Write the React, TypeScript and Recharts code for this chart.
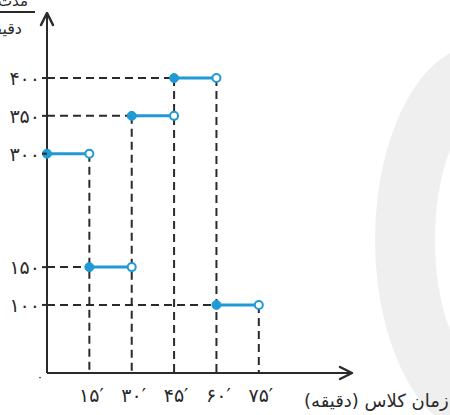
import React from 'react';
import { ComposedChart, Line, XAxis, YAxis, ReferenceLine, ReferenceDot } from 'recharts';

const segStarts = [0, 15, 30, 45, 60];
const segEnds = [15, 30, 45, 60, 75];
const segValues = [300, 150, 350, 400, 100];

const xTicks = [0, 15, 30, 45, 60, 75];
const xTickLabels = ['۰', '۱۵′', '۳۰′', '۴۵′', '۶۰′', '۷۵′'];
const yTicks = [100, 150, 300, 350, 400];
const yTickLabels = ['۱۰۰', '۱۵۰', '۳۰۰', '۳۵۰', '۴۰۰'];

const xTitle = 'زمان کلاس (دقیقه)';
const yTitleTop = 'مدت';
const yTitleBottom = 'دقیقه';

const X_DOMAIN: [number, number] = [0, 108];
const Y_DOMAIN: [number, number] = [10, 486];

const BLUE = '#1f9ad6';
const INK = '#2a2a2a';
const FONT = '"DejaVu Sans", sans-serif';

const guideVerticals = segEnds.map((x) => {
  const tops = segValues.filter((_, i) => segStarts[i] === x || segEnds[i] === x);
  return { x, top: Math.max(...tops) };
});
const guideHorizontals = segStarts
  .map((s, i) => ({ s, v: segValues[i] }))
  .filter((g) => g.s > 0);

const XTick = (props: any) => {
  const { x, y, payload } = props;
  const idx = xTicks.indexOf(payload.value);
  const label = xTickLabels[idx] ?? '';
  if (payload.value === 0) {
    return (
      <text x={x - 7} y={y + 8} textAnchor="middle" fontSize={12} fill={INK} fontFamily={FONT}>
        {label}
      </text>
    );
  }
  return (
    <text x={x + 2} y={y + 29} textAnchor="middle" fontSize={19} fill={INK} fontFamily={FONT}>
      {label}
    </text>
  );
};

const YTick = (props: any) => {
  const { x, y, payload } = props;
  const idx = yTicks.indexOf(payload.value);
  const label = yTickLabels[idx] ?? '';
  return (
    <g>
      <line x1={x - 5} x2={x} y1={y} y2={y} stroke={INK} strokeWidth={2} />
      <text x={x - 7} y={y + 7} textAnchor="end" fontSize={19} fill={INK} fontFamily={FONT}>
        {label}
      </text>
    </g>
  );
};

const makeDot = (props: any) => {
  const { cx, cy, index } = props;
  if (cx == null || cy == null) return <g key={`d${index}`} />;
  if (index === 0) {
    return <circle key={`d${index}`} cx={cx} cy={cy} r={4.5} fill={BLUE} stroke={BLUE} strokeWidth={1} />;
  }
  return <circle key={`d${index}`} cx={cx} cy={cy} r={4} fill="#fff" stroke={BLUE} strokeWidth={2} />;
};

const UpArrow = (props: any) => {
  const { cx, cy } = props;
  return (
    <path
      d={`M${cx - 6},${cy + 12} L${cx},${cy} L${cx + 6},${cy + 12}`}
      fill="none"
      stroke={INK}
      strokeWidth={2.5}
      strokeLinecap="round"
      strokeLinejoin="round"
    />
  );
};

const RightArrow = (props: any) => {
  const { cx, cy } = props;
  return (
    <path
      d={`M${cx - 12},${cy - 6} L${cx},${cy} L${cx - 12},${cy + 6}`}
      fill="none"
      stroke={INK}
      strokeWidth={2.5}
      strokeLinecap="round"
      strokeLinejoin="round"
    />
  );
};

export default function App() {
  return (
    <div style={{ position: 'relative', width: 450, height: 415, background: '#fff', overflow: 'hidden' }}>
      <style>{`body{margin:0;}`}</style>
      <svg width={450} height={415} style={{ position: 'absolute', left: 0, top: 0 }}>
        <path
          d="M480,45 A105,195 0 1,0 480,435 A105,195 0 1,0 480,45 Z M480,120 A45,120 0 1,1 480,360 A45,120 0 1,1 480,120 Z"
          fill="#efefef"
          fillRule="evenodd"
        />
      </svg>
      <div style={{ position: 'absolute', left: 0, top: 0 }}>
        <ComposedChart
          width={450}
          height={415}
          margin={{ top: 13, right: 98, bottom: 12, left: 7 }}
        >
          <XAxis
            type="number"
            dataKey="x"
            domain={X_DOMAIN}
            ticks={xTicks}
            tick={<XTick />}
            tickLine={false}
            tickSize={0}
            tickMargin={0}
            height={30}
            axisLine={{ stroke: INK, strokeWidth: 2 }}
            interval={0}
          />
          <YAxis
            type="number"
            dataKey="y"
            domain={Y_DOMAIN}
            ticks={yTicks}
            tick={<YTick />}
            tickLine={false}
            tickSize={0}
            tickMargin={0}
            width={40}
            axisLine={{ stroke: INK, strokeWidth: 2 }}
            interval={0}
          />
          {guideHorizontals.map((g, i) => (
            <ReferenceLine
              key={`h${i}`}
              segment={[{ x: X_DOMAIN[0], y: g.v }, { x: g.s, y: g.v }]}
              stroke={INK}
              strokeWidth={2}
              strokeDasharray="8 5"
            />
          ))}
          {guideVerticals.map((g, i) => (
            <ReferenceLine
              key={`v${i}`}
              segment={[{ x: g.x, y: g.top }, { x: g.x, y: Y_DOMAIN[0] }]}
              stroke={INK}
              strokeWidth={2}
              strokeDasharray="8 5"
            />
          ))}
          {segValues.map((v, i) => (
            <Line
              key={`s${i}`}
              data={[{ x: segStarts[i], y: v }, { x: segEnds[i], y: v }]}
              dataKey="y"
              type="linear"
              stroke={BLUE}
              strokeWidth={3}
              dot={makeDot}
              activeDot={false}
              isAnimationActive={false}
            />
          ))}
          <ReferenceDot x={X_DOMAIN[0]} y={Y_DOMAIN[1]} r={0} shape={<UpArrow />} ifOverflow="visible" />
          <ReferenceDot x={X_DOMAIN[1]} y={Y_DOMAIN[0]} r={0} shape={<RightArrow />} ifOverflow="visible" />
        </ComposedChart>
      </div>
      <svg width={450} height={415} style={{ position: 'absolute', left: 0, top: 0, pointerEvents: 'none' }}>
        <line x1={0} x2={35} y1={12} y2={12} stroke={INK} strokeWidth={2} />
        <text x={28} y={6} textAnchor="end" fontSize={15} fill={INK} fontFamily={FONT}>
          {yTitleTop}
        </text>
        <text x={22} y={34} textAnchor="end" fontSize={16} fill={INK} fontFamily={FONT}>
          {yTitleBottom}
        </text>
        <text x={304} y={407} textAnchor="start" fontSize={18} fill={INK} fontFamily={FONT}>
          {xTitle}
        </text>
      </svg>
    </div>
  );
}
